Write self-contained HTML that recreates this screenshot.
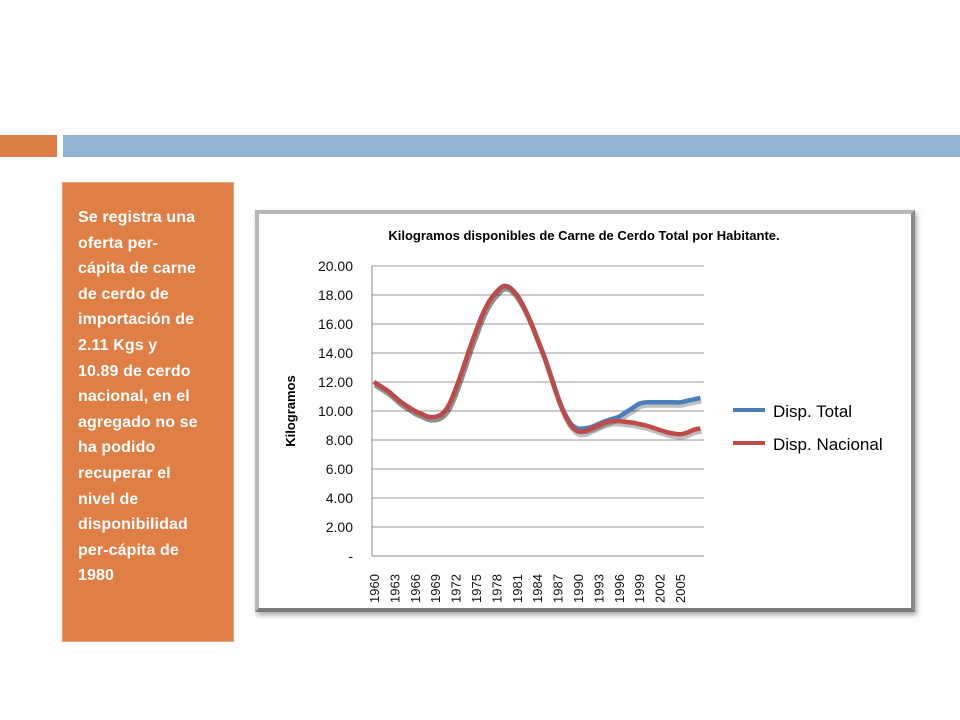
<!DOCTYPE html>
<html><head><meta charset="utf-8"><style>
body{margin:0;width:960px;height:720px;background:#fff;position:relative;overflow:hidden;font-family:"Liberation Sans",sans-serif}
.abs{position:absolute}
#tb div{height:25.6px;white-space:nowrap}
</style></head><body>
<div class="abs" style="left:0;top:135px;width:57px;height:22px;background:#DD7E45"></div>
<div class="abs" style="left:63px;top:135px;width:897px;height:22px;background:#94B4D4"></div>
<div class="abs" id="tb" style="left:62px;top:182px;width:172px;height:460px;background:#DF7E45;border:1px solid #EBA57C;color:#fff;font-size:16px;font-weight:bold;box-sizing:border-box;padding:22px 0 0 15px;line-height:25.6px;letter-spacing:0.1px">
<div>Se registra una</div><div>oferta per-</div><div>cápita de carne</div><div>de cerdo de</div><div>importación de</div><div>2.11 Kgs y</div><div>10.89 de cerdo</div><div>nacional, en el</div><div>agregado no se</div><div>ha podido</div><div>recuperar el</div><div>nivel de</div><div>disponibilidad</div><div>per-cápita de</div><div>1980</div>
</div>
<div class="abs" style="left:255px;top:210px;width:660px;height:402px;box-sizing:border-box;border:4px solid #b8b8b8;border-right-color:#8a8a8a;border-bottom-color:#7a7a7a;box-shadow:2px 3px 5px rgba(0,0,0,.35);background:#fff"></div>
<svg class="abs" style="left:0;top:0" width="960" height="720">
<text x="584" y="240" text-anchor="middle" font-size="13" font-weight="bold" fill="#000">Kilogramos disponibles de Carne de Cerdo Total por Habitante.</text>
<text transform="translate(295,411) rotate(-90)" text-anchor="middle" font-size="13" font-weight="bold">Kilogramos</text>
<g id="grid"></g><g id="lines"></g><g id="xl"></g>
<line x1="733" y1="410" x2="765" y2="410" stroke="#4A7EBB" stroke-width="4"/>
<text x="773" y="417" font-size="17">Disp. Total</text>
<line x1="733" y1="443" x2="765" y2="443" stroke="#BE4B48" stroke-width="4"/>
<text x="773" y="450" font-size="17">Disp. Nacional</text>
</svg>
<script>
const years=[];for(let y=1960;y<=2008;y++)years.push(y);
const total=[12.0,11.7,11.4,11.0,10.6,10.3,10.0,9.8,9.6,9.6,9.8,10.4,11.5,12.8,14.2,15.5,16.7,17.6,18.2,18.6,18.5,18.0,17.2,16.2,15.0,13.8,12.4,11.0,9.9,9.1,8.8,8.8,8.9,9.1,9.3,9.45,9.6,9.9,10.2,10.5,10.6,10.6,10.6,10.6,10.6,10.6,10.7,10.8,10.9];
const nacional=[12.0,11.7,11.4,11.0,10.6,10.3,10.0,9.8,9.6,9.6,9.8,10.4,11.5,12.8,14.2,15.5,16.7,17.6,18.2,18.6,18.5,18.0,17.2,16.2,15.0,13.8,12.4,11.0,9.8,9.0,8.6,8.6,8.8,9.0,9.2,9.3,9.3,9.25,9.2,9.1,9.0,8.85,8.7,8.55,8.45,8.4,8.5,8.7,8.8];
const yTicks=[0,2,4,6,8,10,12,14,16,18,20];
const yTickLabels=['-','2.00','4.00','6.00','8.00','10.00','12.00','14.00','16.00','18.00','20.00'];
const ns='http://www.w3.org/2000/svg';
const X0=374,XS=6.8,L=372,R=704;
const xp=i=>X0+i*XS, yp=v=>556-v*14.5;
function mk(t,a,p){const e=document.createElementNS(ns,t);for(const k in a)e.setAttribute(k,a[k]);p.appendChild(e);return e;}
const g=document.getElementById('grid');
yTicks.forEach((v,i)=>{
 const ln=mk('line',{x1:L,x2:R,y1:yp(v),y2:yp(v),stroke:i==0?'#888':'#999','stroke-width':1},g);
 
 
 const t=mk('text',{x:353,y:yp(v)+5,'text-anchor':'end','font-size':14,fill:'#111'},g);t.textContent=yTickLabels[i];
 
 
});
const ax=mk('line',{x1:L,x2:L,y1:yp(20),y2:yp(0),stroke:'#888'},g);


const xl=document.getElementById('xl');
years.forEach((y,i)=>{if((y-1960)%3||y>2005)return;
 const t=mk('text',{transform:`translate(${xp(i)+5},603) rotate(-90)`,'font-size':13,fill:'#111'},xl);t.textContent=y;
 
 
});
function path(arr){const p=arr.map((v,i)=>[xp(i),yp(v)]);let d=`M${p[0][0]},${p[0][1]}`;
 for(let i=0;i<p.length-1;i++){const a=p[i-1]||p[i],b=p[i],c=p[i+1],e=p[i+2]||c;
 d+=`C${b[0]+(c[0]-a[0])/6},${b[1]+(c[1]-a[1])/6} ${c[0]-(e[0]-b[0])/6},${c[1]-(e[1]-b[1])/6} ${c[0]},${c[1]}`;}return d;}
const lg=document.getElementById('lines');
[[total,'#4A7EBB','series-total'],[nacional,'#BE4B48','series-nacional']].forEach(([a,c,n])=>{
 const s=mk('path',{d:path(a),fill:'none',stroke:'rgba(0,0,0,0.25)','stroke-width':5,transform:'translate(1,3)'},lg);
 
 
});
[[total,'#4A7EBB','series-total'],[nacional,'#BE4B48','series-nacional']].forEach(([a,c,n])=>{
 const s=mk('path',{d:path(a),fill:'none',stroke:c,'stroke-width':4.5},lg);
 
 
});
</script>
</body></html>
